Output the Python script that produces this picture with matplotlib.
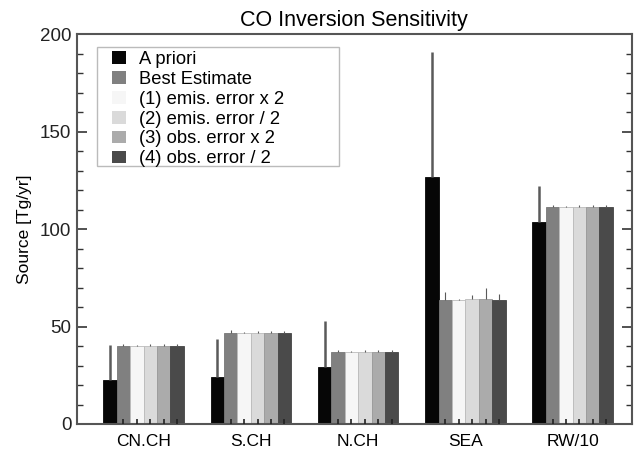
import matplotlib
matplotlib.use("Agg")
import matplotlib.pyplot as plt
from matplotlib.patches import Rectangle
import numpy as np

plt.rcParams['font.family'] = ['Liberation Sans', 'DejaVu Sans']

categories = ["CN.CH", "S.CH", "N.CH", "SEA", "RW/10"]
series_names = ["A priori", "Best Estimate", "(1) emis. error x 2",
                "(2) emis. error / 2", "(3) obs. error x 2", "(4) obs. error / 2"]

apriori = [22.5, 24.0, 29.5, 127.0, 103.5]
best = [40.0, 46.5, 37.0, 63.5, 111.5]
s1 = [40.0, 46.5, 37.0, 63.5, 111.5]
s2 = [40.0, 46.5, 37.0, 64.0, 111.5]
s3 = [40.0, 46.5, 37.0, 64.0, 111.5]
s4 = [40.0, 46.5, 37.0, 63.5, 111.5]

apriori_err = [18.0, 19.5, 23.5, 64.0, 18.5]
best_err = [1.0, 1.5, 1.0, 4.0, 1.0]
s1_err = [0.5, 0.5, 0.5, 0.5, 0.5]
s2_err = [1.0, 1.0, 1.0, 2.0, 1.0]
s3_err = [1.0, 1.0, 1.0, 6.0, 1.0]
s4_err = [1.0, 1.0, 1.0, 3.0, 1.0]

values = [apriori, best, s1, s2, s3, s4]
errors = [apriori_err, best_err, s1_err, s2_err, s3_err, s4_err]
colors = ["#060606", "#808080", "#f6f6f6", "#dadada", "#ababab", "#4a4a4a"]
edgecolors = ["#060606", "#777777", "#bbbbbb", "#bbbbbb", "#999999", "#444444"]

fig = plt.figure(figsize=(6.38, 4.51), dpi=100)
ax = fig.add_axes([0.1207, 0.0599, 0.8694, 0.864])

x = np.arange(len(categories))
w = 0.125
for i, (vals, errs) in enumerate(zip(values, errors)):
    pos = x + (i - 2.5) * w
    ax.bar(pos, vals, width=w, color=colors[i], edgecolor=edgecolors[i],
           linewidth=0.6, label=series_names[i], zorder=2)
    lw = 1.8 if i == 0 else 0.8
    ax.errorbar(pos, vals, yerr=[np.zeros(len(vals)), errs], fmt='none',
                ecolor='#5a5a5a', elinewidth=lw, capsize=0, zorder=3)
    if i > 0:
        ax.vlines(pos, 0, 2.5, colors='#222222', linewidth=1.2, zorder=4)

ax.set_xlim(-0.62, 4.55)
ax.set_ylim(0, 200)
ax.set_xticks(x)
ax.set_xticklabels(categories, fontsize=12.5)
ax.set_yticks([0, 50, 100, 150, 200])
ax.set_yticks(np.arange(0, 201, 10), minor=True)
ax.tick_params(axis='y', which='major', direction='in', length=7, width=1.2,
               right=True, labelsize=13.5, colors='#333333', labelcolor='#222222',
               pad=4)
ax.tick_params(axis='y', which='minor', direction='in', length=4, width=1.0,
               right=True, colors='#333333')
ax.tick_params(axis='x', which='both', length=0, pad=7)
for s in ax.spines.values():
    s.set_linewidth(1.5)
    s.set_color('#555555')

ax.set_ylabel("Source [Tg/yr]", fontsize=12.5, labelpad=6)
ax.set_title("CO Inversion Sensitivity", fontsize=15.5, pad=6)

# legend frame box
ax.add_patch(Rectangle((0.0366, 0.662), 0.4363, 0.3046, transform=ax.transAxes,
                       facecolor='white', edgecolor='#bbbbbb', linewidth=1.0,
                       zorder=5))
leg = ax.legend(loc='upper left', bbox_to_anchor=(0.0626, 0.957), borderaxespad=0,
                fontsize=13.2, frameon=False,
                handlelength=0.77, handleheight=0.69, handletextpad=0.72,
                labelspacing=0.155, borderpad=0)
leg.set_zorder(6)
for h in leg.legend_handles:
    h.set_edgecolor('none')

fig.savefig("out.png", dpi=100)
